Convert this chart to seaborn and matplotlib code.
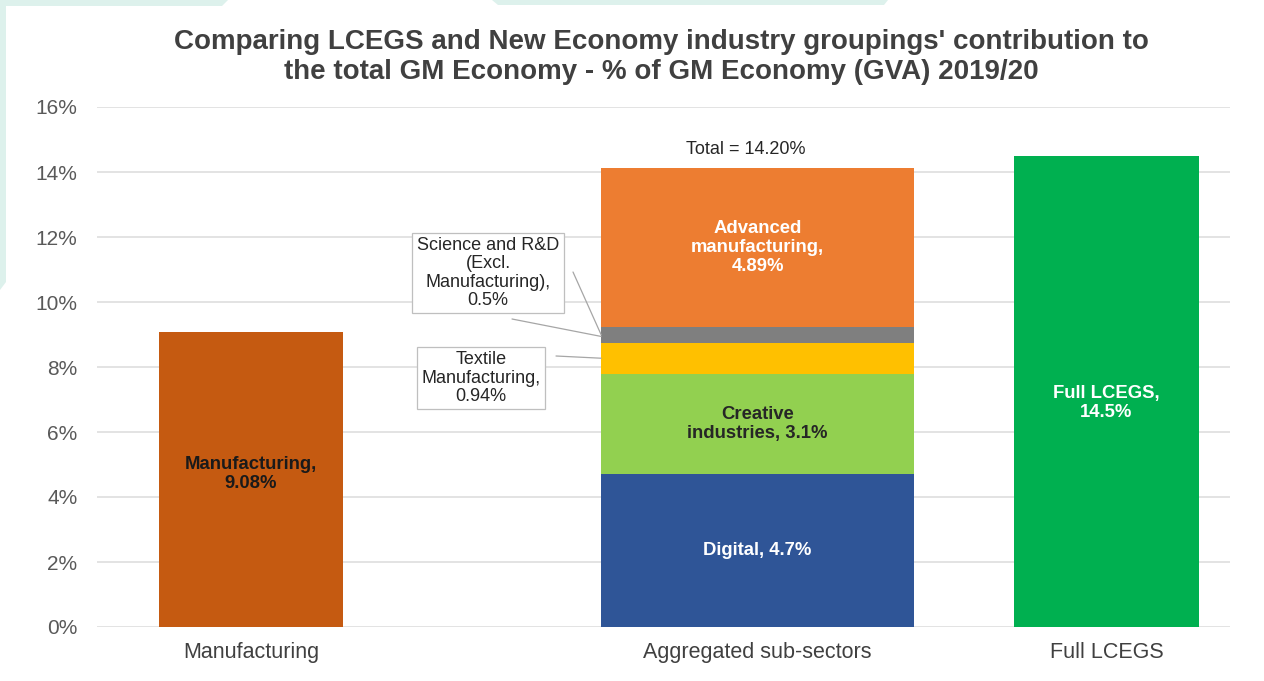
import matplotlib
matplotlib.use("Agg")
import matplotlib.pyplot as plt
from matplotlib.patches import Polygon
import seaborn as sns
import pandas as pd

# --- data -------------------------------------------------------------
categories = ["Manufacturing", "Aggregated sub-sectors", "Full LCEGS"]

manufacturing_value = 9.08
full_lcegs_value = 14.5

sub_sectors = ["Digital", "Creative industries", "Textile Manufacturing",
               "Science and R&D (Excl. Manufacturing)", "Advanced manufacturing"]
sub_values = [4.7, 3.1, 0.94, 0.5, 4.89]
sub_labels = ["Digital, 4.7%", "Creative\nindustries, 3.1%", "Textile\nManufacturing,\n0.94%",
              "Science and R&D\n(Excl.\nManufacturing),\n0.5%", "Advanced\nmanufacturing,\n4.89%"]
total_label = "Total = 14.20%"

y_ticks = [0, 2, 4, 6, 8, 10, 12, 14, 16]

# --- layout / style -----------------------------------------------------
centres = [1.36, 5.83, 8.91]
widths = [1.63, 2.76, 1.63]
sub_colors = ["#2F5597", "#92D050", "#FFC000", "#7F7F7F", "#ED7D31"]
manuf_color = "#C55A11"
lcegs_color = "#00B050"
label_size = 13.3

sns.set_theme(style="white")
plt.rcParams["font.family"] = ["Liberation Sans", "DejaVu Sans"]

fig = plt.figure(figsize=(12.64, 6.81), dpi=100)
fig.patch.set_facecolor("white")

# decorative mint band along the top and left edges
mint = "#DDF1EC"
W, H = 1264, 681
def px_poly(pts):
    return Polygon([(x / W, 1 - y / H) for x, y in pts], closed=True,
                   transform=fig.transFigure, facecolor=mint, edgecolor="none", zorder=0)
fig.patches.append(px_poly([(0, 0), (228, 0), (222, 6), (6, 6), (6, 282), (0, 290)]))
fig.patches.append(px_poly([(492, 0), (888, 0), (884, 5), (498, 5)]))

ax = fig.add_axes([97 / W, 1 - 627 / H, (1230 - 97) / W, (627 - 107) / H])
ax.set_facecolor("none")

def bar(x, h, w, color, bottom=0.0):
    df = pd.DataFrame({"x": [x], "y": [h]})
    sns.barplot(data=df, x="x", y="y", native_scale=True, width=w, color=color,
                bottom=bottom, saturation=1, edgecolor="none", linewidth=0, ax=ax, zorder=3)

# Manufacturing
bar(centres[0], manufacturing_value, widths[0], manuf_color)
ax.text(centres[0], manufacturing_value * 0.52, f"Manufacturing,\n{manufacturing_value:.2f}%",
        ha="center", va="center", fontsize=label_size, fontweight="bold", color="#1a1a1a",
        zorder=5, linespacing=1.15)

# Aggregated stacked sub-sectors
bottom = 0.0
for val, col in zip(sub_values, sub_colors):
    bar(centres[1], val, widths[1], col, bottom=bottom)
    bottom += val
stack_top = bottom

seg_bottoms = [sum(sub_values[:i]) for i in range(len(sub_values))]
inner_text = {0: "white", 1: "#262626", 4: "white"}
for i, tc in inner_text.items():
    mid = seg_bottoms[i] + sub_values[i] / 2
    ax.text(centres[1], mid, sub_labels[i], ha="center", va="center", fontsize=label_size,
            fontweight="bold", color=tc, zorder=5, linespacing=1.15)

ax.text(centres[1] - 0.1, stack_top + 0.55, total_label, ha="center", va="center",
        fontsize=13, color="#262626", zorder=5)

# callouts for the thin segments
def px_to_data(px, py):
    return (px - 97) / 113.3, (627 - py) / 32.5

box_kw = dict(boxstyle="square,pad=0.25", facecolor="white", edgecolor="#BFBFBF", linewidth=0.9)
sx, sy = px_to_data(488, 273)
ax.text(sx, sy, sub_labels[3], ha="center", va="center", fontsize=13, color="#262626",
        bbox=box_kw, zorder=6, linespacing=1.08)
tx, ty = px_to_data(481, 378)
ax.text(tx, ty, sub_labels[2], ha="center", va="center", fontsize=13, color="#262626",
        bbox=box_kw, zorder=6, linespacing=1.08)

bar_left = centres[1] - widths[1] / 2
sci_mid = seg_bottoms[3] + sub_values[3] / 2
tex_mid = seg_bottoms[2] + sub_values[2] / 2
p1 = px_to_data(573, 272)
ax.plot([p1[0], bar_left], [p1[1], sci_mid], color="#A6A6A6", lw=0.9, zorder=4)
p2 = px_to_data(512, 319)
ax.plot([p2[0], bar_left], [p2[1], sci_mid - 0.05], color="#A6A6A6", lw=0.9, zorder=4)
p3 = px_to_data(556, 356)
ax.plot([p3[0], bar_left], [p3[1], tex_mid], color="#A6A6A6", lw=0.9, zorder=4)

# Full LCEGS
bar(centres[2], full_lcegs_value, widths[2], lcegs_color)
ax.text(centres[2], full_lcegs_value * 0.476, f"Full LCEGS,\n{full_lcegs_value}%",
        ha="center", va="center", fontsize=label_size, fontweight="bold", color="white",
        zorder=5, linespacing=1.15)

# axes styling
ax.set_xlim(0, 10)
ax.set_ylim(0, 16)
ax.set_yticks(y_ticks)
ax.set_yticklabels([f"{t}%" for t in y_ticks], fontsize=15, color="#595959")
ax.set_xticks(centres)
ax.set_xticklabels(categories, fontsize=15.5, color="#404040")
ax.tick_params(axis="y", length=0, pad=14)
ax.tick_params(axis="x", length=0, pad=11)
ax.set_xlabel("")
ax.set_ylabel("")
ax.grid(axis="y", color="#DEDEDE", linewidth=1.2, zorder=0)
ax.set_axisbelow(True)
for s in ax.spines.values():
    s.set_visible(False)

fig.text(661 / W, 1 - 57 / H,
         "Comparing LCEGS and New Economy industry groupings' contribution to\n"
         "the total GM Economy - % of GM Economy (GVA) 2019/20",
         ha="center", va="center", fontsize=20, fontweight="bold", color="#404040",
         linespacing=1.2)

fig.savefig("out.png", dpi=100, facecolor="white")
